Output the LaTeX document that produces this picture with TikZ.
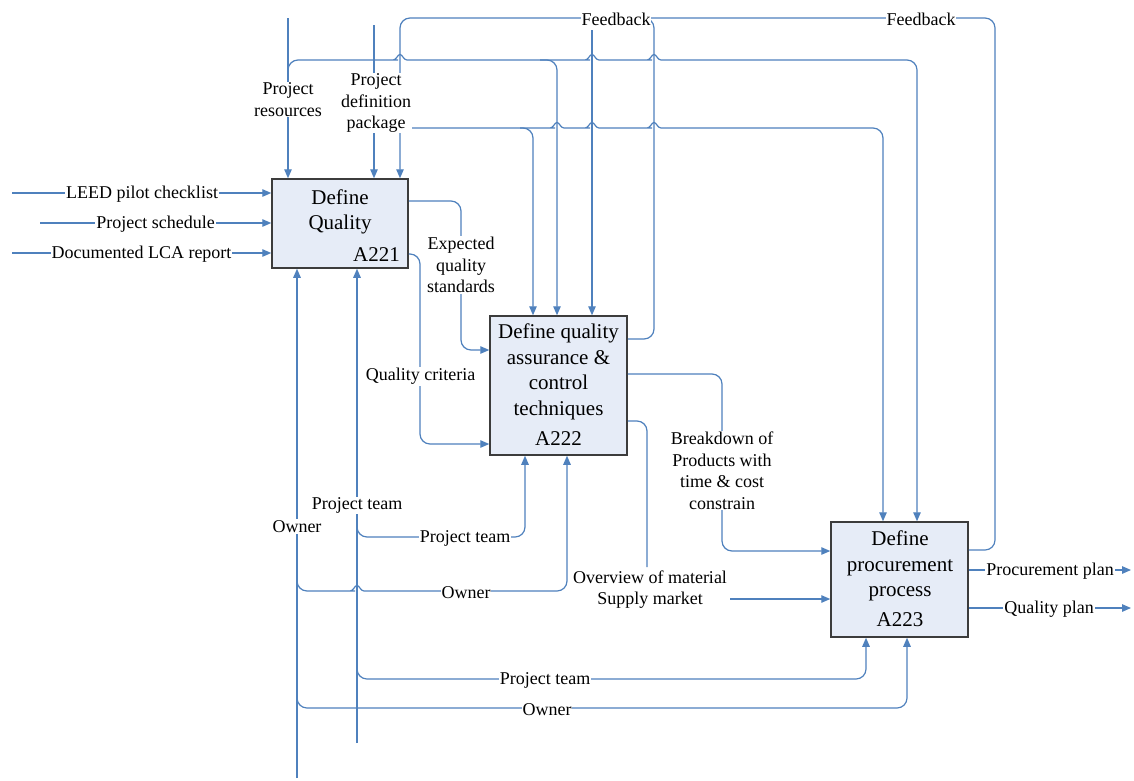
\documentclass[tikz,border=0pt]{standalone}
\usepackage{fontspec}
\setmainfont{Liberation Serif}
\usetikzlibrary{arrows.meta}
\definecolor{flow}{RGB}{79,129,189}
\definecolor{boxfill}{RGB}{230,236,247}
\definecolor{boxline}{RGB}{60,60,60}
% small jump where a horizontal flow line crosses a vertical one
\newcommand{\hop}[2]{-- (#1-12,#2) [sharp corners] -- (#1-7,#2) .. controls (#1-3.5,#2) and (#1-2.5,#2-5.5) .. (#1,#2-5.5) .. controls (#1+2.5,#2-5.5) and (#1+3.5,#2) .. (#1+7,#2) -- (#1+12,#2) [rounded corners=10]}
\begin{document}
\begin{tikzpicture}[x=1pt,y=-1pt,
  conn/.style={draw=flow,line width=1.2pt,rounded corners=10},
  arr/.style={conn,-{Triangle[length=9pt,width=7.5pt]}},
  activity/.style={draw=boxline,line width=1.5pt,fill=boxfill,inner sep=0pt},
  title/.style={font=\fontsize{21}{25.5}\selectfont,align=center,inner sep=1pt},
  lbl/.style={fill=white,inner sep=1pt,font=\fontsize{18}{21.5}\selectfont,align=center,yshift=-1.5pt}]
\fill[white] (0,0) rectangle (1134,780);
\useasboundingbox (0,0) rectangle (1134,780);

% activity boxes
\node[activity,minimum width=136pt,minimum height=89pt] (a221) at (340,223.5) {};
\node[activity,minimum width=137pt,minimum height=139pt] (a222) at (558.5,385.5) {};
\node[activity,minimum width=137pt,minimum height=115pt] (a223) at (899.5,579.5) {};
\node[title] (t221) at (340,212) {Define\\Quality};
\node[title,anchor=east] (n221) at (401,255) {A221};
\node[title] (t222) at (558.5,372) {Define quality\\assurance \&\\control\\techniques};
\node[title] (n222) at (558.5,439) {A222};
\node[title] (t223) at (900,566) {Define\\procurement\\process};
\node[title] (n223) at (900,620) {A223};

% inputs of A221
\coordinate (inLeed) at (12,193);
\coordinate (inSched) at (40,223);
\coordinate (inLca) at (12,253);
\draw[arr] (inLeed) -- (a221.west |- inLeed);
\draw[arr] (inSched) -- (a221.west |- inSched);
\draw[arr] (inLca) -- (a221.west |- inLca);

% controls from the top
\coordinate (resTop) at (288,18);
\coordinate (pkgTop) at (374,25);
\draw[arr] (resTop) -- (resTop |- a221.north);
\draw[arr] (pkgTop) -- (pkgTop |- a221.north);
\coordinate (resTap) at (288,75);
\draw[arr] (resTap) -- (288,60) \hop{400}{60} -- (557,60) -- ([xshift=-1.5]a222.north);
\coordinate (resRun) at (540,60);
\draw[arr] (resRun) \hop{592}{60} \hop{654}{60} -- (917,60) -- ([xshift=17.5]a223.north);
\coordinate (pkgOut) at (411,128);
\draw[arr] (pkgOut) -- (533,128) -- ([xshift=-25.5]a222.north);
\coordinate (pkgRun) at (520,128);
\draw[arr] (pkgRun) \hop{557}{128} \hop{592}{128} \hop{654}{128} -- (883,128) -- ([xshift=-16.5]a223.north);

% feedback loops
\draw[arr] ([yshift=29.5]a223.east) -- (995,550) -- (995,18) -- (400,18) -- ([xshift=60]a221.north);
\draw[conn] ([yshift=46.5]a222.east) -- (654,339) -- (654,18) -- (630,18);
\coordinate (fbTap) at (592,30);
\draw[arr] (fbTap) -- ([xshift=33.5]a222.north);

% outputs between activities
\draw[arr] ([yshift=22.5]a221.east) -- (461,201) -- (461,350) -- ([yshift=35.5]a222.west);
\draw[arr] ([yshift=-30.5]a221.east) -- (420,254) -- (420,444) -- ([yshift=-58.5]a222.west);
\draw[arr] ([yshift=11.5]a222.east) -- (722,374) -- (722,551) -- ([yshift=28.5]a223.west);
\coordinate (ovEnd) at (647,567);
\draw[conn] ([yshift=-35.5]a222.east) -- (647,421) -- (ovEnd);
\coordinate (ovIn) at (730,599);
\draw[arr] (ovIn) -- ([yshift=-19.5]a223.west);

% final outputs
\coordinate (procOut) at (1131,570);
\coordinate (qualOut) at (1131,608);
\draw[arr] ([yshift=9.5]a223.east) -- (procOut);
\draw[arr] ([yshift=-28.5]a223.east) -- (qualOut);

% mechanisms from below
\coordinate (ownBot) at (297,778);
\coordinate (teamBot) at (357,743);
\draw[arr] (ownBot) -- ([xshift=-43]a221.south);
\draw[arr] (teamBot) -- ([xshift=17]a221.south);
\coordinate (teamTap1) at (357,522);
\coordinate (ownTap1) at (297,575);
\coordinate (teamTap2) at (357,665);
\coordinate (ownTap2) at (297,693);
\draw[arr] (teamTap1) -- (357,537) -- (525,537) -- ([xshift=-33.5]a222.south);
\draw[arr] (ownTap1) -- (297,591) \hop{357}{591} -- (567,591) -- ([xshift=8.5]a222.south);
\draw[arr] (teamTap2) -- (357,679) -- (866,679) -- ([xshift=-33.5]a223.south);
\draw[arr] (ownTap2) -- (297,708) -- (907,708) -- ([xshift=7.5]a223.south);

% labels
\node[lbl] (lLeed) at (142,193) {LEED pilot checklist};
\node[lbl] (lSched) at (155.5,223) {Project schedule};
\node[lbl] (lLca) at (141.5,253) {Documented LCA report};
\node[lbl] (lRes) at (288,98) {Project\\resources};
\node[lbl] (lPkg) at (376,101.5) {Project\\definition\\package};
\node[lbl] (lFb1) at (616,18) {Feedback};
\node[lbl] (lFb2) at (921,18) {Feedback};
\node[lbl] (lExp) at (461,263.5) {Expected\\quality\\standards};
\node[lbl] (lCrit) at (420.5,375) {Quality criteria};
\node[lbl] (lBrk) at (722,469) {Breakdown of\\Products with\\time \& cost\\constrain};
\node[lbl] (lOv) at (650,588) {Overview of material\\Supply market};
\node[lbl] (lProc) at (1050,570) {Procurement plan};
\node[lbl] (lQual) at (1049,608) {Quality plan};
\node[lbl] (lTeam0) at (357,504) {Project team};
\node[lbl] (lOwn0) at (297,525) {Owner};
\node[lbl] (lTeam1) at (465,537) {Project team};
\node[lbl] (lOwn1) at (466,591) {Owner};
\node[lbl] (lTeam2) at (545,679) {Project team};
\node[lbl] (lOwn2) at (547,708) {Owner};
\end{tikzpicture}
\end{document}
